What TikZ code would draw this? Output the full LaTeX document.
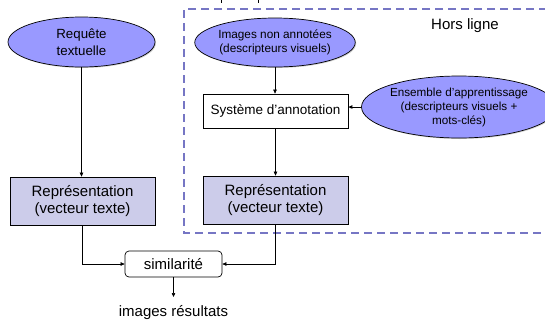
\documentclass[tikz,border=0pt]{standalone}
\usepackage{fontspec}
\setmainfont{Liberation Sans}
\usetikzlibrary{shapes.geometric,arrows.meta,shadows}
\definecolor{ellfill}{RGB}{153,153,255}
\definecolor{boxfill}{RGB}{204,204,234}
\definecolor{dashcol}{RGB}{118,118,196}
\begin{document}
\begin{tikzpicture}[x=1pt,y=-1pt,
  txt/.style={align=center,inner sep=0pt},
  ellnode/.style={ellipse,draw,fill=ellfill,line width=0.7pt,inner sep=0pt,
    drop shadow={shadow xshift=1pt,shadow yshift=-1pt,opacity=0.35}},
  repbox/.style={rectangle,draw,fill=boxfill,line width=0.7pt,inner sep=0pt,
    minimum width=145pt,minimum height=48pt,align=center,
    font=\fontsize{15}{17}\selectfont,
    drop shadow={shadow xshift=1pt,shadow yshift=-1pt,opacity=0.35}},
  conn/.style={line width=0.6pt},
  arr/.style={conn,-{Triangle[length=4pt,width=3.5pt]}},
]
\useasboundingbox (0,0) rectangle (545,322);
% dashed offline region
\draw[dashcol,line width=1.6pt,dash pattern=on 8pt off 5pt] (560,9) -- (184,9) -- (184,233) -- (560,233);
% cut-off marks at the top
\draw[line width=0.7pt] (221,0) -- (221,3);
\draw[line width=0.7pt] (258,0) -- (258,3);

\node[txt,font=\fontsize{15}{17}\selectfont] (hors) at (465,26) {Hors ligne};

\node[ellnode,minimum width=147pt,minimum height=50pt,align=center,
  font=\fontsize{13.3}{16.5}\selectfont] (req) at (81.5,42) {Requête\\textuelle};
\node[ellnode,minimum width=143pt,minimum height=49pt,align=center,
  font=\fontsize{11.8}{14}\selectfont] (img) at (275,42.5) {Images non annotées\\(descripteurs visuels)};
\node[rectangle,draw,fill=white,line width=0.7pt,minimum width=145pt,minimum height=34pt,
  inner sep=0pt,font=\fontsize{13.5}{16}\selectfont,
  drop shadow={shadow xshift=1pt,shadow yshift=-1pt,opacity=0.35}] (sys) at (275.5,111) {Système d’annotation};
\node[ellnode,minimum width=168pt,minimum height=62pt,align=center,
  font=\fontsize{11.7}{14}\selectfont] (ens) at (459,107) {Ensemble d’apprentissage\\(descripteurs visuels +\\mots-clés)};

\node[repbox] (repL) at (82.5,201) {Représentation\\(vecteur texte)};
\node[repbox] (repR) at (275.5,200) {Représentation\\(vecteur texte)};

\node[rectangle,rounded corners=4pt,draw,fill=white,line width=0.7pt,minimum width=97pt,
  minimum height=26pt,inner sep=0pt,font=\fontsize{15}{17}\selectfont] (sim) at (173.5,264) {similarité};

\node[txt,font=\fontsize{15}{17}\selectfont] (res) at (173.5,313) {images résultats};
\coordinate (resTop) at (173.5,297);

\draw[arr] (req.south) -- (req.south |- repL.north);
\draw[arr] (img.south) -- (img.south |- sys.north);
\draw[arr] (sys.south) -- (sys.south |- repR.north);
\draw[arr,line width=1pt] (ens.west) -- (ens.west -| sys.east);
\draw[arr] (repL.south) |- (sim.west);
\draw[arr] (repR.south) |- (sim.east);
\draw[arr] (sim.south) -- (resTop);
\end{tikzpicture}
\end{document}
